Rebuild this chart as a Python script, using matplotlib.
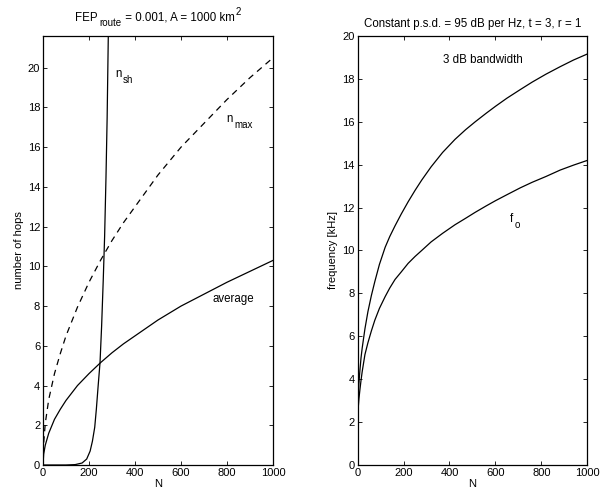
import matplotlib
matplotlib.use('Agg')
import matplotlib.pyplot as plt
from matplotlib.transforms import offset_copy

plt.rcParams['font.family'] = ['Liberation Sans', 'DejaVu Sans']

# left panel: number of hops vs N
n_avg = [0, 3, 10, 25, 50, 75, 100, 150, 200, 250, 300, 350, 400, 450, 500, 600, 700, 800, 900, 1000]
hops_avg = [0, 0.55, 1.0, 1.6, 2.3, 2.8, 3.25, 4.0, 4.6, 5.15, 5.65, 6.1, 6.5, 6.9, 7.3, 8.0, 8.6, 9.2, 9.75, 10.3]

n_max_N = [0, 3, 10, 25, 50, 75, 100, 150, 200, 250, 300, 350, 400, 450, 500, 600, 700, 800, 900, 1000]
hops_max = [0, 1.1, 2.1, 3.3, 4.6, 5.6, 6.5, 7.95, 9.2, 10.3, 11.3, 12.2, 13.0, 13.8, 14.6, 16.0, 17.2, 18.4, 19.5, 20.5]

n_sh_N = [0, 100, 140, 170, 190, 205, 215, 225, 232, 240, 248, 255, 262, 268, 274, 279, 284, 290]
hops_sh = [0, 0, 0.02, 0.1, 0.3, 0.7, 1.2, 1.9, 2.8, 4.0, 5.15, 7.0, 9.3, 11.5, 14.5, 17.5, 21.6, 26.0]

# right panel: frequency vs N
f_N = [1, 3, 6, 10, 15, 20, 32, 45, 60, 75, 95, 120, 140, 163, 190, 220, 250, 279, 320, 370,
       424, 470, 512, 560, 600, 650, 708, 760, 820, 882, 940, 1000]
f_3db = [2.8, 3.4, 3.85, 4.4, 5.0, 5.45, 6.35, 7.15, 7.9, 8.55, 9.35, 10.15, 10.65, 11.15, 11.7, 12.27,
         12.8, 13.28, 13.9, 14.57, 15.18, 15.63, 16.0, 16.4, 16.72, 17.1, 17.5, 17.85, 18.22, 18.57, 18.88, 19.16]
f_o = [2.2, 2.7, 3.1, 3.5, 3.95, 4.35, 5.15, 5.7, 6.25, 6.75, 7.3, 7.85, 8.25, 8.65, 9.0, 9.4,
       9.72, 10.0, 10.4, 10.8, 11.2, 11.5, 11.78, 12.08, 12.32, 12.6, 12.92, 13.18, 13.45, 13.75, 13.98, 14.2]

fig = plt.figure(figsize=(6.02, 4.95), dpi=100)
ax1 = fig.add_axes([0.0714, 0.0606, 0.382, 0.8667])
ax2 = fig.add_axes([0.594, 0.0606, 0.3816, 0.8667])
renderer = fig.canvas.get_renderer()


def rich_text(ax, x, y, parts, transform, ha='left'):
    # parts: (text, gap before in points, vertical shift in points, font size)
    objs, widths = [], []
    for s, gap, dy, fs in parts:
        t = ax.text(x, y, s, fontsize=fs, transform=transform, va='baseline', clip_on=False)
        widths.append(gap + t.get_window_extent(renderer).width * 72 / fig.dpi)
        objs.append(t)
    pos = -sum(widths) / 2 if ha == 'center' else 0
    for t, w, (s, gap, dy, fs) in zip(objs, widths, parts):
        t.set_transform(offset_copy(transform, fig=fig, x=pos + gap, y=dy, units='points'))
        pos += w


lw = 0.9
ax1.plot(n_avg, hops_avg, color='black', lw=lw)
ax1.plot(n_max_N, hops_max, color='black', lw=lw, dashes=[5, 4])
ax1.plot(n_sh_N, hops_sh, color='black', lw=lw)
ax1.set_xlim(0, 1000)
ax1.set_ylim(0, 21.6)
ax1.set_xticks(range(0, 1001, 200))
ax1.set_yticks(range(0, 21, 2))
ax1.set_xlabel('N', fontsize=8, labelpad=1)
ax1.set_ylabel('number of hops', fontsize=8, labelpad=3)
rich_text(ax1, 0.5, 1.0, [('FEP', 0, 11, 8.3), ('route', 1.2, 7, 7), (' = 0.001, A = 1000 km', 0, 11, 8.3),
                          ('2', 0.3, 15, 7)], ax1.transAxes, ha='center')
rich_text(ax1, 313, 19.51, [('n', 0, 0, 8.3), ('sh', 1.2, -4.3, 7)], ax1.transData)
rich_text(ax1, 796, 17.28, [('n', 0, 0, 8.3), ('max', 1.2, -4.3, 7)], ax1.transData)
ax1.text(735, 8.2, 'average', fontsize=8.3, va='baseline')

ax2.plot(f_N, f_3db, color='black', lw=lw)
ax2.plot(f_N, f_o, color='black', lw=lw)
ax2.set_xlim(0, 1000)
ax2.set_ylim(0, 20)
ax2.set_xticks(range(0, 1001, 200))
ax2.set_yticks(range(0, 21, 2))
ax2.set_xlabel('N', fontsize=8, labelpad=1)
ax2.set_ylabel('frequency [kHz]', fontsize=8, labelpad=3)
rich_text(ax2, 0.5, 1.0, [('Constant p.s.d. = 95 dB per Hz, t = 3, r = 1', 0, 6.7, 8.3)], ax2.transAxes, ha='center')
ax2.text(372, 18.74, '3 dB bandwidth', fontsize=8.3, va='baseline')
rich_text(ax2, 665, 11.33, [('f', 0, 0, 8.3), ('o', 1.0, -4.0, 7)], ax2.transData)

for ax in (ax1, ax2):
    ax.tick_params(direction='in', top=True, right=True, labelsize=8,
                   length=3, width=0.6, pad=2)
    for s in ax.spines.values():
        s.set_linewidth(0.9)

fig.savefig('out.png', dpi=100)
